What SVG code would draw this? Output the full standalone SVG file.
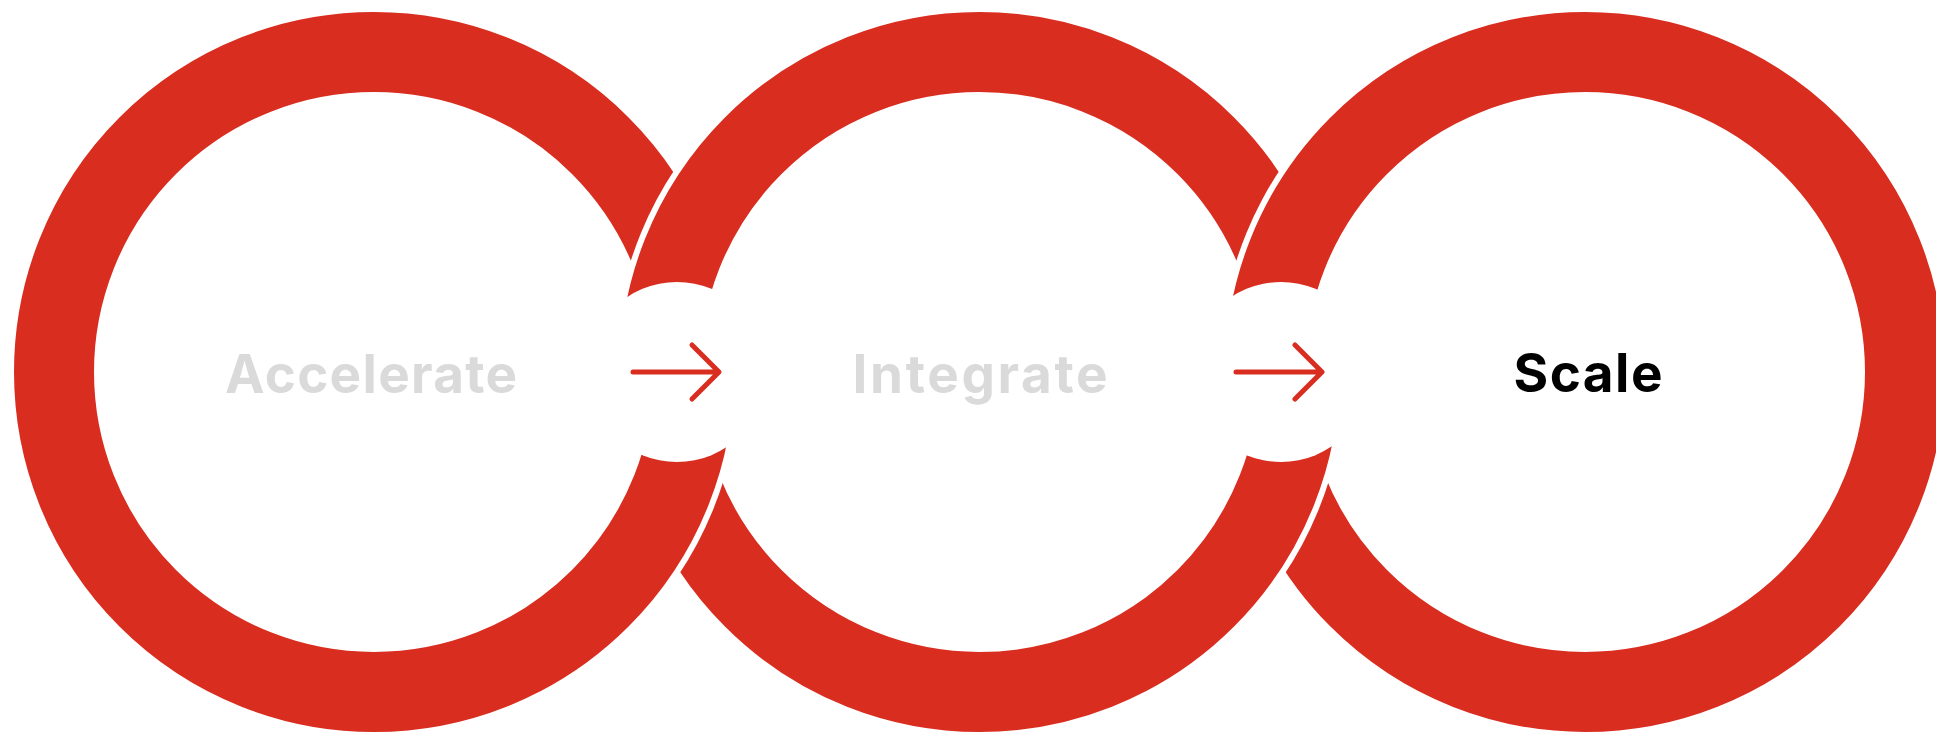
<svg xmlns="http://www.w3.org/2000/svg" width="1936" height="734" viewBox="0 0 1936 734">
<style>
.ring{fill:#fff;stroke:#d92d20;stroke-width:80}
.gap{fill:#fff}
.lbl{font-family:Inter,"Liberation Sans",sans-serif;font-weight:700;font-size:53px}
.muted{fill:#dadada}
.active{fill:#000}
.arrow{fill:none;stroke:#d92d20;stroke-width:5;stroke-linecap:round;stroke-linejoin:round}
.hub{fill:#fff}
</style>
<defs>
<clipPath id="clipJ1"><rect x="540" y="372" width="260" height="362"/></clipPath>
<clipPath id="clipJ2"><rect x="1145" y="372" width="260" height="362"/></clipPath>
</defs>
<rect width="1936" height="734" fill="#fff"/>
<g id="node-accelerate">
<circle class="ring" cx="374" cy="372" r="320"/>
<text class="lbl muted" x="371" y="393" text-anchor="middle" textLength="292" lengthAdjust="spacing">Accelerate</text>
</g>
<g id="node-integrate">
<circle class="gap" cx="979.5" cy="372" r="366"/>
<circle class="ring" cx="979.5" cy="372" r="320"/>
<text class="lbl muted" x="980" y="393" text-anchor="middle" textLength="255" lengthAdjust="spacing">Integrate</text>
</g>
<g id="node-scale">
<circle class="gap" cx="1585" cy="372" r="366"/>
<circle class="ring" cx="1585" cy="372" r="320"/>
<text class="lbl active" x="1588" y="392" text-anchor="middle" textLength="149" lengthAdjust="spacing">Scale</text>
</g>
<g id="connectors">
<g id="link-1-front" clip-path="url(#clipJ1)">
<circle class="gap" cx="374" cy="372" r="366"/>
<circle class="ring" cx="374" cy="372" r="320"/>
</g>
<g id="link-2-front" clip-path="url(#clipJ2)">
<circle class="gap" cx="979.5" cy="372" r="366"/>
<circle class="ring" cx="979.5" cy="372" r="320"/>
</g>
<g id="arrow-1">
<circle class="hub" cx="677" cy="372" r="90"/>
<path class="arrow" d="M633 372H718M692 345L719 372L692 399"/>
</g>
<g id="arrow-2">
<circle class="hub" cx="1281" cy="372" r="90"/>
<path class="arrow" d="M1236 372H1321M1295 345L1322 372L1295 399"/>
</g>
</g>
</svg>
